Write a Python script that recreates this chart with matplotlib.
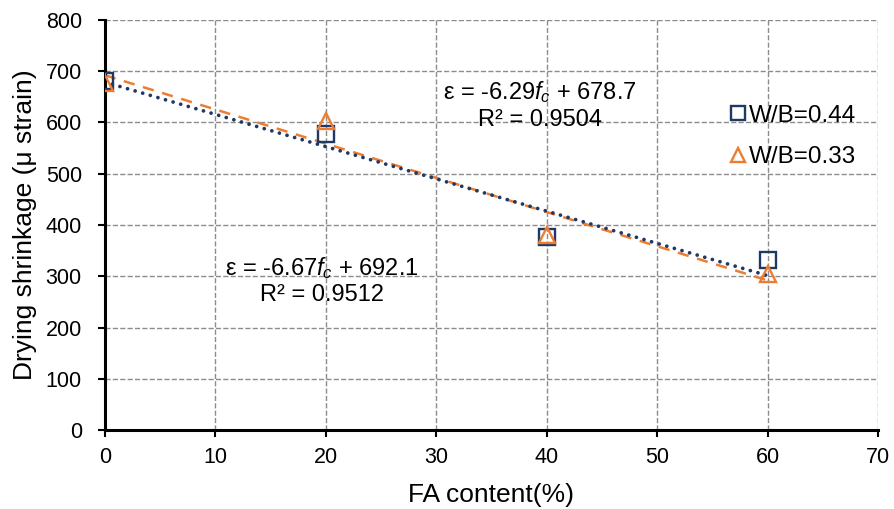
import matplotlib.pyplot as plt
import numpy as np

plt.rcParams['font.family'] = 'Liberation Sans'
plt.rcParams['mathtext.fontset'] = 'custom'
plt.rcParams['mathtext.rm'] = 'Liberation Sans'
plt.rcParams['mathtext.it'] = 'Liberation Sans:italic'

fa = [0, 20, 40, 60]
wb044 = [681, 577, 376, 332]
wb033 = [677, 603, 380, 305]

# trend line coefficients shown on chart
fit044 = (-6.29, 678.7, 0.9504)
fit033 = (-6.67, 692.1, 0.9512)

navy = '#1F3864'
orange = '#ED7D31'

fig = plt.figure(figsize=(8.95, 5.09), dpi=100)
ax = fig.add_axes([0.117, 0.155, 0.864, 0.806])

ax.plot(fa, wb044, 's', ms=11.5, mfc='none', mec=navy, mew=1.7, label='W/B=0.44', zorder=3)
ax.plot(fa, wb033, '^', ms=12, mfc='none', mec=orange, mew=1.7, label='W/B=0.33', zorder=3)

xx = np.array([0, 60])
ax.plot(xx, fit033[0]*xx + fit033[1], '--', color=orange, lw=1.8, dashes=(4.5, 3.5), zorder=2)
ax.plot(xx, fit044[0]*xx + fit044[1], ':', color=navy, lw=2.7, dashes=(0.01, 2.1),
        dash_capstyle='round', zorder=2)

ax.text(39.4, 659, r'ε = -6.29$f_c$ + 678.7', ha='center', va='center', fontsize=17)
ax.text(39.4, 605, 'R² = 0.9504', ha='center', va='center', fontsize=17)
ax.text(19.7, 316, r'ε = -6.67$f_c$ + 692.1', ha='center', va='center', fontsize=17)
ax.text(19.7, 263, 'R² = 0.9512', ha='center', va='center', fontsize=17)

ax.set_xlim(0, 70)
ax.set_ylim(0, 800)
ax.set_xticks(range(0, 71, 10))
ax.set_yticks(range(0, 801, 100))
ax.grid(True, ls='--', color='#8c8c8c', lw=1)
ax.set_axisbelow(True)
for s in ['top', 'right']:
    ax.spines[s].set_visible(False)
for s in ['left', 'bottom']:
    ax.spines[s].set_linewidth(2.2)
ax.tick_params(labelsize=15.5, width=1.5, length=5)
ax.tick_params(axis='x', pad=7)
ax.tick_params(axis='y', pad=11.5)
ax.set_xlabel('FA content(%)', fontsize=19, labelpad=11)
ax.set_ylabel('Drying shrinkage (μ strain)', fontsize=19, labelpad=6)

ax.legend(loc='center left', bbox_to_anchor=(0.808, 0.716), frameon=False, fontsize=17.5,
          borderpad=0, borderaxespad=0, handletextpad=0.1, labelspacing=0.8,
          handlelength=0.7, markerscale=0.82)

fig.savefig('out.png', dpi=100)
